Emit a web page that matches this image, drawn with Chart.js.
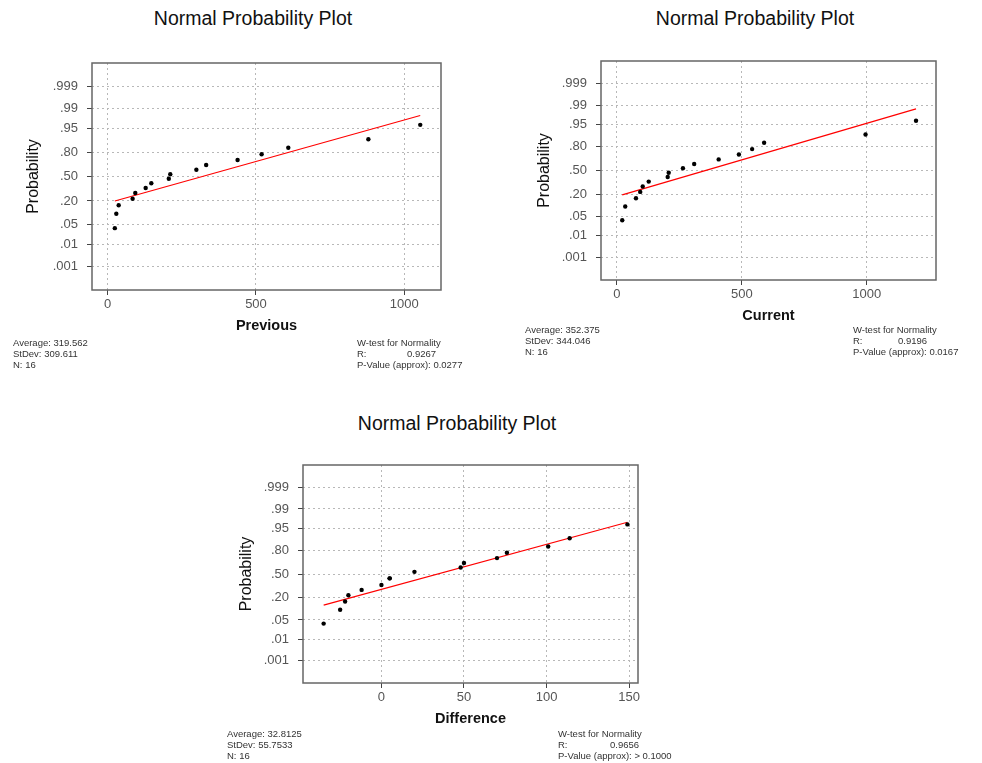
<!DOCTYPE html>
<html>
<head>
<meta charset="utf-8">
<script src="https://cdn.jsdelivr.net/npm/chart.js@4"></script>
<style>
body { margin: 0; background: #fff; width: 982px; height: 763px; position: relative; overflow: hidden; font-family: "Liberation Sans", Arial, sans-serif; }
canvas { position: absolute; }
.ttl { position: absolute; font-size: 19.5px; line-height: 22px; color: #111; white-space: nowrap; transform: translateX(-50%); }
.st { position: absolute; font-size: 9.5px; line-height: 11px; color: #333; white-space: nowrap; }
.st span { display: inline-block; }
</style>
</head>
<body>
<div class="ttl" style="left:253px;top:7px">Normal Probability Plot</div>
<div class="ttl" style="left:755px;top:7px">Normal Probability Plot</div>
<div class="ttl" style="left:457px;top:412px">Normal Probability Plot</div>

<canvas id="c1" width="460" height="295" style="left:0px;top:43px"></canvas>
<canvas id="c2" width="470" height="287" style="left:500px;top:41px"></canvas>
<canvas id="c3" width="450" height="286" style="left:210px;top:445px"></canvas>

<div class="st" style="left:13px;top:337px">Average: 319.562<br>StDev: 309.611<br>N: 16</div>
<div class="st" style="left:357px;top:337px">W-test for Normality<br><span style="width:50px">R:</span>0.9267<br>P-Value (approx): 0.0277</div>

<div class="st" style="left:525px;top:324px">Average: 352.375<br>StDev: 344.046<br>N: 16</div>
<div class="st" style="left:853px;top:324px">W-test for Normality<br><span style="width:45px">R:</span>0.9196<br>P-Value (approx): 0.0167</div>

<div class="st" style="left:227px;top:728px">Average: 32.8125<br>StDev: 55.7533<br>N: 16</div>
<div class="st" style="left:558px;top:728px">W-test for Normality<br><span style="width:52px">R:</span>0.9656<br>P-Value (approx): &gt; 0.1000</div>

<script>
// probability axis
var probTicks = [0.001, 0.01, 0.05, 0.20, 0.50, 0.80, 0.95, 0.99, 0.999];
var probLabels = ['.001', '.01', '.05', '.20', '.50', '.80', '.95', '.99', '.999'];

// Previous
var prevX = [24, 29, 37, 84, 93, 128, 147, 206, 211, 299, 332, 438, 519, 609, 879, 1054];
var prevP = [0.038, 0.100, 0.162, 0.223, 0.285, 0.346, 0.408, 0.469, 0.531, 0.592, 0.654, 0.715, 0.777, 0.838, 0.900, 0.962];
var prevFitX = [24, 1054];
var prevFitP = [0.20, 0.982];
var prevTicks = [0, 500, 1000];

// Current
var currX = [21, 33, 76, 93, 103, 127, 203, 207, 264, 309, 407, 488, 541, 589, 995, 1197];
var currP = [0.038, 0.100, 0.162, 0.223, 0.285, 0.346, 0.408, 0.469, 0.531, 0.592, 0.654, 0.715, 0.777, 0.838, 0.900, 0.962];
var currFitX = [21, 1197];
var currFitP = [0.192, 0.986];
var currTicks = [0, 500, 1000];

// Difference
var diffX = [-35, -25, -22, -20, -12, 0, 5, 5, 20, 48, 50, 70, 76, 101, 114, 149];
var diffP = [0.038, 0.100, 0.162, 0.223, 0.285, 0.346, 0.438, 0.438, 0.531, 0.592, 0.654, 0.715, 0.777, 0.838, 0.900, 0.962];
var diffFitX = [-35, 149];
var diffFitP = [0.133, 0.968];
var diffTicks = [0, 50, 100, 150];

// inverse normal cdf (Acklam)
function probit(p) {
	var a = [-3.969683028665376e+01, 2.209460984245205e+02, -2.759285104469687e+02, 1.383577518672690e+02, -3.066479806614716e+01, 2.506628277459239e+00];
	var b = [-5.447609879822406e+01, 1.615858368580409e+02, -1.556989798598866e+02, 6.680131188771972e+01, -1.328068155288572e+01];
	var c = [-7.784894002430293e-03, -3.223964580411365e-01, -2.400758277161838e+00, -2.549732539343734e+00, 4.374664141464968e+00, 2.938163982698783e+00];
	var d = [7.784695709041462e-03, 3.224671290700398e-01, 2.445134137142996e+00, 3.754408661907416e+00];
	var pl = 0.02425, q, r;
	if (p < pl) {
		q = Math.sqrt(-2 * Math.log(p));
		return (((((c[0]*q+c[1])*q+c[2])*q+c[3])*q+c[4])*q+c[5]) / ((((d[0]*q+d[1])*q+d[2])*q+d[3])*q+1);
	}
	if (p > 1 - pl) {
		q = Math.sqrt(-2 * Math.log(1 - p));
		return -(((((c[0]*q+c[1])*q+c[2])*q+c[3])*q+c[4])*q+c[5]) / ((((d[0]*q+d[1])*q+d[2])*q+d[3])*q+1);
	}
	q = p - 0.5; r = q * q;
	return (((((a[0]*r+a[1])*r+a[2])*r+a[3])*r+a[4])*r+a[5])*q / (((((b[0]*r+b[1])*r+b[2])*r+b[3])*r+b[4])*r+1);
}

Chart.defaults.font.family = '"Liberation Sans", Arial, sans-serif';

var boxPlugin = {
	id: 'box',
	afterDatasetsDraw: function(chart) {
		var a = chart.chartArea, ctx = chart.ctx;
		ctx.save();
		ctx.strokeStyle = '#666';
		ctx.lineWidth = 1.5;
		ctx.strokeRect(a.left, a.top, a.right - a.left, a.bottom - a.top);
		ctx.restore();
	}
};

function toPts(xs, ps) {
	return xs.map(function(x, i) { return { x: x, y: probit(ps[i]) }; });
}

function probPlot(id, xs, ps, fx, fp, xMin, xMax, xTicks, xTitle, yW, yTitlePad, padR) {
	return new Chart(document.getElementById(id), {
		type: 'scatter',
		data: {
			datasets: [
				{
					data: toPts(xs, ps),
					pointRadius: 2.2,
					pointBackgroundColor: '#000',
					pointBorderWidth: 0,
					showLine: false
				}, {
					data: toPts(fx, fp),
					showLine: true,
					borderColor: '#ff0000',
					borderWidth: 1.2,
					pointRadius: 0
				}
			]
		},
		options: {
			responsive: false,
			animation: false,
			layout: { padding: { top: 20, right: padR, left: 0, bottom: 0 } },
			plugins: { legend: { display: false }, tooltip: { enabled: false } },
			scales: {
				x: {
					type: 'linear',
					min: xMin,
					max: xMax,
					afterBuildTicks: function(s) { s.ticks = xTicks.map(function(v) { return { value: v }; }); },
					afterFit: function(s) { s.height = 48; },
					grid: { color: '#b8b8b8', lineWidth: 1, tickLength: 5, tickColor: '#444', tickWidth: 1 },
					border: { display: false, dash: [2, 3] },
					ticks: { padding: 2, color: '#555', font: { size: 13 }, callback: function(v) { return String(v); } },
					title: { display: true, text: xTitle, color: '#111', font: { size: 14.5, weight: 'bold' }, padding: { top: 0, bottom: 3 } }
				},
				y: {
					type: 'linear',
					min: -3.9,
					max: 3.9,
					afterBuildTicks: function(s) { s.ticks = probTicks.map(function(p) { return { value: probit(p) }; }); },
					afterFit: function(s) { s.width = yW; },
					grid: { color: '#b8b8b8', lineWidth: 1, tickLength: 5, tickColor: '#444', tickWidth: 1 },
					border: { display: false, dash: [2, 3] },
					ticks: { padding: 9, color: '#555', font: { size: 13 }, callback: function(v, i) { return probLabels[i]; } },
					title: { display: true, text: 'Probability', color: '#111', font: { size: 16 }, padding: { top: yTitlePad, bottom: 0 } }
				}
			}
		},
		plugins: [boxPlugin]
	});
}

probPlot('c1', prevX, prevP, prevFitX, prevFitP, -53, 1124, prevTicks, 'Previous', 92, 24, 19);
probPlot('c2', currX, currP, currFitX, currFitP, -64, 1277, currTicks, 'Current', 101, 35, 34);
probPlot('c3', diffX, diffP, diffFitX, diffFitP, -47.5, 155.4, diffTicks, 'Difference', 93, 27, 22);
</script>
</body>
</html>
